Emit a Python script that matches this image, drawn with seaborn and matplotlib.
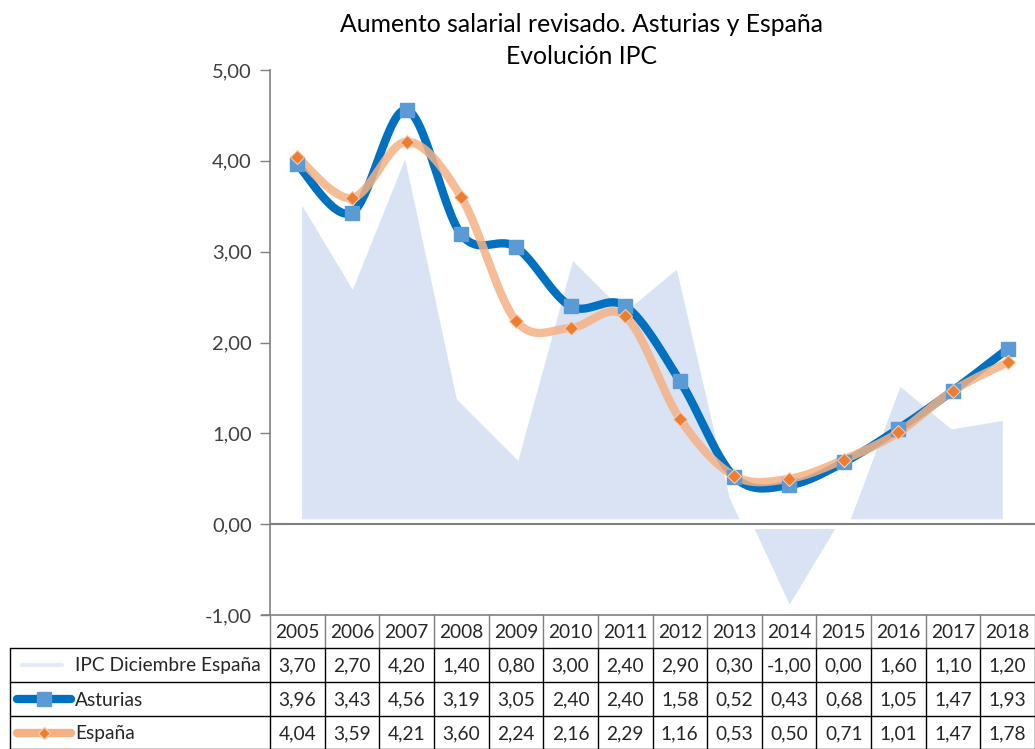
import numpy as np
import pandas as pd
import matplotlib
matplotlib.use("Agg")
import matplotlib.pyplot as plt
import matplotlib.transforms as mtransforms
from matplotlib.lines import Line2D
import seaborn as sns

years = ["2005", "2006", "2007", "2008", "2009", "2010", "2011", "2012", "2013",
         "2014", "2015", "2016", "2017", "2018"]
ipc = [3.70, 2.70, 4.20, 1.40, 0.80, 3.00, 2.40, 2.90, 0.30, -1.00, 0.00, 1.60, 1.10, 1.20]
asturias = [3.96, 3.43, 4.56, 3.19, 3.05, 2.40, 2.40, 1.58, 0.52, 0.43, 0.68, 1.05, 1.47, 1.93]
espana = [4.04, 3.59, 4.21, 3.60, 2.24, 2.16, 2.29, 1.16, 0.53, 0.50, 0.71, 1.01, 1.47, 1.78]
series_names = ["IPC Diciembre España", "Asturias", "España"]
title_lines = ["Aumento salarial revisado. Asturias y España", "Evolución IPC"]

C_AREA = "#DAE3F3"
C_AST = "#0070C0"
C_AST_M = "#5B9BD5"
C_ESP = "#F4B183"
C_ESP_M = "#ED7D31"
FONT = ["Lato", "DejaVu Sans"]
FS_TAB = 13.8
FS_TICK = 14.5


def fmt(v):
    return f"{v:.2f}".replace(".", ",")


def smooth(y, n=30):
    """Bezier smoothing like a spreadsheet 'smoothed line' through the data points."""
    x = np.arange(len(y), dtype=float)
    P = np.column_stack([x, np.asarray(y, float)])
    out = []
    for i in range(len(P) - 1):
        p0 = P[i - 1] if i > 0 else P[i]
        p1, p2 = P[i], P[i + 1]
        p3 = P[i + 2] if i + 2 < len(P) else P[i + 1]
        c1 = p1 + (p2 - p0) / 6.0
        c2 = p2 - (p3 - p1) / 6.0
        t = np.linspace(0, 1, n, endpoint=(i == len(P) - 2))[:, None]
        seg = ((1 - t) ** 3) * p1 + 3 * ((1 - t) ** 2) * t * c1 + 3 * (1 - t) * t ** 2 * c2 + t ** 3 * p2
        out.append(seg)
    out = np.vstack(out)
    return out[:, 0], out[:, 1]


sns.set_theme(style="white")
plt.rcParams["font.family"] = FONT

W, H = 1035, 749
fig = plt.figure(figsize=(W / 100, H / 100), dpi=100)
ax = fig.add_axes([270 / W, (H - 615) / H, (W - 270) / W, (615 - 70) / H])

xi = np.arange(len(years))

# Area series (IPC) with a white halo edge
ax.fill_between(xi, ipc, 0, color=C_AREA, linewidth=0, zorder=1)
ax.fill_between(xi, ipc, 0, facecolor="none", edgecolor="white", linewidth=7,
                joinstyle="miter", zorder=1.5)

# Smoothed lines
ax_x, ax_y = smooth(asturias)
es_x, es_y = smooth(espana)
df_a = pd.DataFrame({"x": ax_x, "y": ax_y})
df_e = pd.DataFrame({"x": es_x, "y": es_y})
sns.lineplot(data=df_a, x="x", y="y", sort=False, estimator=None, color=C_AST,
             linewidth=6, ax=ax, zorder=3)
sns.lineplot(data=df_e, x="x", y="y", sort=False, estimator=None, color=C_ESP,
             linewidth=6, alpha=0.85, ax=ax, zorder=4)
ax.plot(xi, asturias, linestyle="none", marker="s", markersize=9.5,
        markerfacecolor=C_AST_M, markeredgecolor=C_AST_M, zorder=5)
ax.plot(xi, espana, linestyle="none", marker="D", markersize=7,
        markerfacecolor=C_ESP_M, markeredgecolor="#F8CBAD", markeredgewidth=0.8, zorder=6)

ax.set_xlim(-0.5, len(years) - 0.5)
ax.set_ylim(-1, 5)
ax.set_yticks([-1, 0, 1, 2, 3, 4, 5])
ax.set_yticklabels([fmt(v) for v in [-1, 0, 1, 2, 3, 4, 5]], fontsize=FS_TICK, color="#404040")
ax.set_xticks([])
ax.set_xlabel("")
ax.set_ylabel("")
ax.tick_params(axis="y", length=7, width=1, color="#7f7f7f", direction="out", pad=6, left=True)
for s in ["top", "right"]:
    ax.spines[s].set_visible(False)
ax.spines["left"].set_color("#7f7f7f")
ax.spines["left"].set_linewidth(1.2)
ax.spines["bottom"].set_color("#7f7f7f")
ax.spines["bottom"].set_linewidth(1.2)
ax.axhline(0, color="#7f7f7f", linewidth=1.5, zorder=2)
ax.spines["bottom"].set_bounds(-0.5 - 0.15, len(years) - 0.5)

fig.text(582 / W, 1 - 25 / H, title_lines[0], ha="center", va="center", fontsize=17.8,
         color="black", family=FONT)
fig.text(582 / W, 1 - 57 / H, title_lines[1], ha="center", va="center", fontsize=17.8,
         color="black", family=FONT)

# Data table below the axis
def ypx(p):
    return 1 - p / H

tr = mtransforms.blended_transform_factory(ax.transData, fig.transFigure)
trf = fig.transFigure
rows_y = [615, 648, 682, 716, 749]
edges = np.arange(len(years) + 1) - 0.5

for e in edges:
    ax.add_line(Line2D([e, e], [ypx(615), ypx(648)], transform=tr, color="#7f7f7f",
                       linewidth=1, clip_on=False))
    ax.add_line(Line2D([e, e], [ypx(648), ypx(749)], transform=tr, color="black",
                       linewidth=1, clip_on=False))
for yy in rows_y[1:]:
    fig.add_artist(Line2D([10 / W, 1], [ypx(yy), ypx(yy)], transform=trf, color="black",
                          linewidth=1))
fig.add_artist(Line2D([10 / W, 10 / W], [ypx(648), ypx(749)], transform=trf, color="black",
                      linewidth=1))

for i, yr in enumerate(years):
    ax.text(i, ypx(633), yr, transform=tr, ha="center", va="center", fontsize=FS_TAB,
            color="#262626", clip_on=False)
for r, vals in enumerate([ipc, asturias, espana]):
    yc = ypx((rows_y[r + 1] + rows_y[r + 2]) / 2 + 1)
    for i, v in enumerate(vals):
        ax.text(i, yc, fmt(v), transform=tr, ha="center", va="center", fontsize=FS_TAB,
                color="#262626", clip_on=False)
    fig.text(75 / W, yc, series_names[r], ha="left", va="center",
             fontsize=FS_TAB, color="#262626", family=FONT)

# legend keys
k0, k1 = 17 / W, 71 / W
yk = ypx(665)
fig.add_artist(Line2D([22 / W, 62 / W], [yk, yk], transform=trf, color="#E4EAF6", linewidth=3))
yk = ypx(699)
fig.add_artist(Line2D([k0, k1], [yk, yk], transform=trf, color=C_AST, linewidth=6,
                      solid_capstyle="round"))
fig.add_artist(Line2D([(k0 + k1) / 2], [yk], transform=trf, marker="s", markersize=9.5,
                      color=C_AST_M, linestyle="none"))
yk = ypx(733)
fig.add_artist(Line2D([k0, k1], [yk, yk], transform=trf, color=C_ESP, linewidth=6,
                      solid_capstyle="round"))
fig.add_artist(Line2D([(k0 + k1) / 2], [yk], transform=trf, marker="D", markersize=6.5,
                      markerfacecolor=C_ESP_M, markeredgecolor="#F8CBAD", linestyle="none"))

fig.savefig("out.png", dpi=100)
